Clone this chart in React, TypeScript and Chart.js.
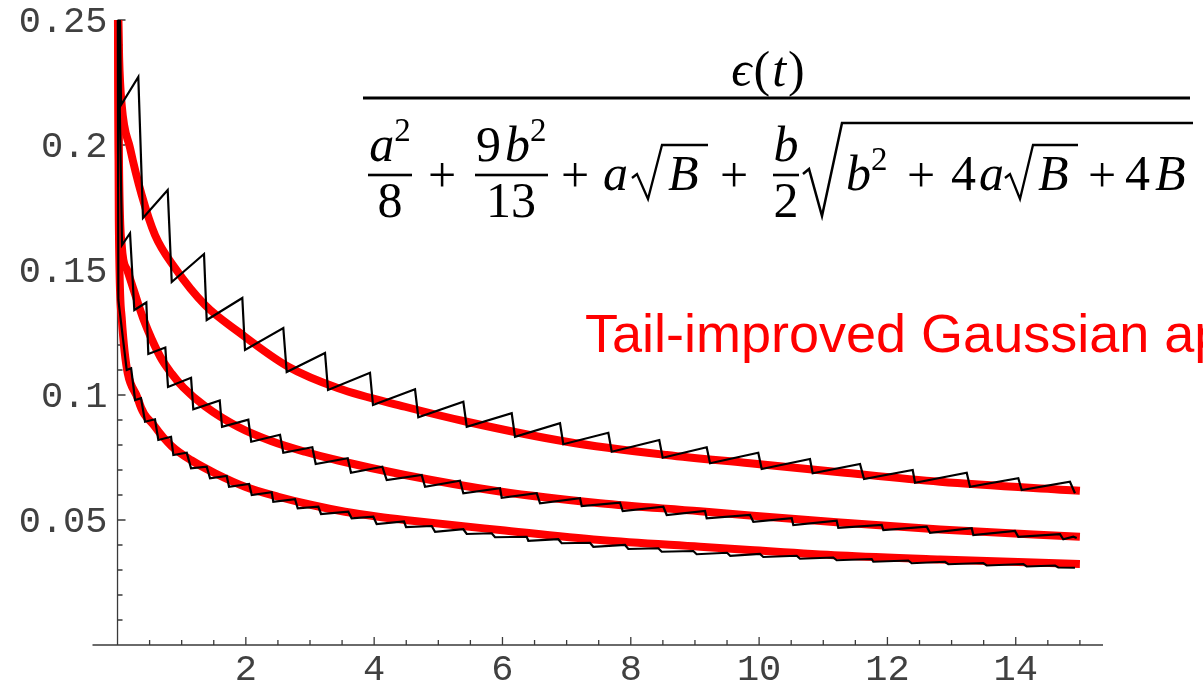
import React, { useEffect, useRef } from 'react';
import { Chart, registerables } from 'chart.js';
Chart.register(...registerables);

// ---------- data ----------
const xMajorTicks = [2, 4, 6, 8, 10, 12, 14];
const xTickLabels = ['2', '4', '6', '8', '10', '12', '14'];
const xMinorTicks = [0.5, 1, 1.5, 2.5, 3, 3.5, 4.5, 5, 5.5, 6.5, 7, 7.5, 8.5, 9, 9.5, 10.5, 11, 11.5, 12.5, 13, 13.5, 14.5, 15];
const yMajorTicks = [0.05, 0.1, 0.15, 0.2, 0.25];
const yTickLabels = ['0.05', '0.1', '0.15', '0.2', '0.25'];
const yMinorTicks = [0.01, 0.02, 0.03, 0.04, 0.06, 0.07, 0.08, 0.09, 0.11, 0.12, 0.13, 0.14, 0.16, 0.17, 0.18, 0.19, 0.21, 0.22, 0.23, 0.24];

const redTopX = [0.005, 0.025, 0.065, 0.195, 0.377, 0.584, 0.896, 1.364, 1.883, 2.662, 3.442, 4.481, 5.443, 7.0, 8.56, 9.858, 11.26, 12.82, 15.0];
const redTopY = [0.262, 0.235, 0.216, 0.1988, 0.18, 0.164, 0.1508, 0.136, 0.1253, 0.1113, 0.1027, 0.0953, 0.0893, 0.0813, 0.076, 0.0727, 0.0691, 0.0653, 0.0617];

const redMidX = [0.005, 0.02, 0.065, 0.15, 0.246, 0.402, 0.662, 0.845, 1.026, 1.364, 1.883, 2.403, 2.922, 3.44, 4.481, 5.96, 7.52, 9.08, 9.858, 11.26, 12.82, 15.0];
const redMidY = [0.27, 0.2, 0.16, 0.15, 0.1425, 0.1305, 0.1155, 0.1085, 0.103, 0.0955, 0.0872, 0.0815, 0.0773, 0.0738, 0.068, 0.0614, 0.0567, 0.0535, 0.0518, 0.049, 0.0462, 0.0433];

const redLowX = [0.005, 0.02, 0.065, 0.324, 0.584, 0.845, 1.156, 1.52, 1.987, 2.506, 3.027, 3.546, 4.065, 4.481, 5.96, 7.52, 9.08, 9.858, 11.26, 12.82, 15.0];
const redLowY = [0.26, 0.17, 0.131, 0.098, 0.0873, 0.0795, 0.0738, 0.0687, 0.0633, 0.0593, 0.056, 0.0533, 0.0513, 0.05, 0.046, 0.042, 0.0393, 0.038, 0.0358, 0.0342, 0.0324];

const sawTopX = [0.031, 0.055, 0.324, 0.397, 0.782, 0.845, 1.348, 1.39, 1.945, 1.987, 2.584, 2.637, 3.234, 3.281, 3.935, 3.982, 4.637, 4.688, 5.39, 5.443, 6.144, 6.195, 6.897, 6.948, 7.65, 7.703, 8.444, 8.497, 9.183, 9.235, 9.987, 10.04, 10.793, 10.835, 11.573, 11.635, 12.394, 12.43, 13.236, 13.287, 14.04, 14.093, 14.845, 14.923];
const sawTopY = [0.262, 0.216, 0.2272, 0.1708, 0.182, 0.1452, 0.1564, 0.13, 0.1388, 0.118, 0.1268, 0.1092, 0.1168, 0.102, 0.1089, 0.096, 0.1023, 0.0911, 0.0973, 0.0873, 0.0927, 0.0833, 0.0887, 0.0803, 0.0849, 0.0773, 0.082, 0.0749, 0.0791, 0.0727, 0.0769, 0.0704, 0.0744, 0.0687, 0.0724, 0.0664, 0.07, 0.0649, 0.0689, 0.0633, 0.0667, 0.062, 0.0653, 0.0607];

const sawMidX = [0.008, 0.07, 0.195, 0.262, 0.449, 0.48, 0.745, 0.787, 1.146, 1.181, 1.593, 1.629, 2.039, 2.084, 2.533, 2.584, 3.036, 3.089, 3.588, 3.639, 4.127, 4.196, 4.741, 4.793, 5.338, 5.39, 5.962, 5.988, 6.534, 6.585, 7.209, 7.235, 7.832, 7.874, 8.507, 8.56, 9.157, 9.183, 9.858, 9.91, 10.508, 10.533, 11.209, 11.234, 11.911, 11.936, 12.612, 12.664, 13.314, 13.339, 13.988, 14.04, 14.69, 14.741, 14.897, 14.95];
const sawMidY = [0.258, 0.16, 0.1647, 0.134, 0.137, 0.1164, 0.119, 0.1032, 0.1069, 0.0943, 0.0978, 0.0873, 0.0901, 0.0813, 0.0841, 0.0769, 0.0791, 0.0724, 0.0747, 0.0689, 0.0713, 0.066, 0.068, 0.0633, 0.0657, 0.0607, 0.0627, 0.0589, 0.0607, 0.0567, 0.0587, 0.0556, 0.0569, 0.0536, 0.0553, 0.052, 0.0536, 0.0507, 0.052, 0.0493, 0.0507, 0.048, 0.0497, 0.0469, 0.048, 0.046, 0.0473, 0.0449, 0.0467, 0.044, 0.0456, 0.0433, 0.0443, 0.0423, 0.0433, 0.0428];

const sawLowX = [0.003, 0.013, 0.143, 0.212, 0.274, 0.366, 0.429, 0.584, 0.636, 0.834, 0.87, 1.079, 1.146, 1.39, 1.442, 1.702, 1.738, 2.051, 2.092, 2.403, 2.428, 2.767, 2.809, 3.13, 3.172, 3.597, 3.649, 3.987, 4.039, 4.465, 4.497, 4.897, 4.949, 5.39, 5.443, 5.832, 5.884, 6.378, 6.403, 6.87, 6.923, 7.364, 7.416, 7.91, 7.961, 8.429, 8.482, 8.974, 9.027, 9.5, 9.55, 10.014, 10.065, 10.586, 10.637, 11.156, 11.209, 11.755, 11.78, 12.325, 12.378, 12.897, 12.949, 13.494, 13.547, 14.118, 14.171, 14.612, 14.663, 14.923];
const sawLowY = [0.27, 0.138, 0.11, 0.1107, 0.098, 0.0987, 0.0893, 0.0903, 0.082, 0.0833, 0.076, 0.0769, 0.0707, 0.0713, 0.0667, 0.0676, 0.0633, 0.0644, 0.06, 0.0611, 0.0573, 0.0583, 0.0547, 0.0553, 0.0524, 0.0533, 0.0507, 0.0513, 0.0484, 0.0494, 0.0472, 0.0476, 0.0453, 0.0463, 0.0444, 0.0447, 0.0431, 0.0433, 0.0417, 0.0423, 0.0407, 0.0409, 0.0393, 0.04, 0.0384, 0.0387, 0.0373, 0.0376, 0.0363, 0.0369, 0.0357, 0.0364, 0.0352, 0.0357, 0.0345, 0.035, 0.0339, 0.0344, 0.0333, 0.0338, 0.0327, 0.0333, 0.0323, 0.0328, 0.0318, 0.0324, 0.0314, 0.0318, 0.031, 0.0309];

const zip = (xs: number[], ys: number[]) => xs.map((x, i) => ({ x, y: ys[i] }));

// ---------- drawing helpers ----------
const SERIF = '"Liberation Serif", "DejaVu Serif", serif';
type Piece = [string, number, boolean, number?];
function runWidth(ctx: CanvasRenderingContext2D, pieces: Piece[], gap = 0) {
  let w = 0;
  for (const [t, s, it] of pieces) {
    ctx.font = `${it ? 'italic ' : ''}${s}px ${SERIF}`;
    w += ctx.measureText(t).width + gap;
  }
  return w - gap;
}
function drawRun(ctx: CanvasRenderingContext2D, pieces: Piece[], x: number, y: number, center = false, gap = 0) {
  let cx = center ? x - runWidth(ctx, pieces, gap) / 2 : x;
  for (const [t, s, it, dy] of pieces) {
    ctx.font = `${it ? 'italic ' : ''}${s}px ${SERIF}`;
    ctx.fillText(t, cx, y + (dy || 0));
    cx += ctx.measureText(t).width + gap;
  }
  return cx;
}
function hline(ctx: CanvasRenderingContext2D, x1: number, x2: number, y: number, w: number) {
  ctx.fillRect(x1, y - w / 2, x2 - x1, w);
}
function radical(ctx: CanvasRenderingContext2D, pts: number[][], barEnd: number) {
  ctx.beginPath();
  ctx.moveTo(pts[0][0], pts[0][1]);
  for (let i = 1; i < pts.length; i++) ctx.lineTo(pts[i][0], pts[i][1]);
  ctx.lineTo(barEnd, pts[pts.length - 1][1]);
  ctx.stroke();
}

const FS = 50;
const SUP = 33;

const axesPlugin = {
  id: 'mathAxes',
  beforeDatasetsDraw(chart: any) {
    const { ctx, scales } = chart;
    const xs = scales.x, ys = scales.y;
    const x0 = xs.getPixelForValue(0);
    const y0 = ys.getPixelForValue(0);
    ctx.save();
    ctx.strokeStyle = '#3a3a3a';
    ctx.lineWidth = 1.3;
    ctx.beginPath();
    ctx.moveTo(xs.left, y0); ctx.lineTo(xs.right, y0);
    ctx.moveTo(x0, ys.getPixelForValue(0.25)); ctx.lineTo(x0, y0);
    for (const v of xMajorTicks) { const p = xs.getPixelForValue(v); ctx.moveTo(p, y0); ctx.lineTo(p, y0 - 8); }
    for (const v of xMinorTicks) { const p = xs.getPixelForValue(v); ctx.moveTo(p, y0); ctx.lineTo(p, y0 - 5); }
    for (const v of yMajorTicks) { const p = ys.getPixelForValue(v); ctx.moveTo(x0, p); ctx.lineTo(x0 + 8, p); }
    for (const v of yMinorTicks) { const p = ys.getPixelForValue(v); ctx.moveTo(x0, p); ctx.lineTo(x0 + 5, p); }
    ctx.stroke();
    ctx.fillStyle = '#404040';
    ctx.font = '37px "Liberation Mono", "DejaVu Sans Mono", monospace';
    ctx.textBaseline = 'middle';
    ctx.textAlign = 'center';
    xMajorTicks.forEach((v, i) => ctx.fillText(xTickLabels[i], xs.getPixelForValue(v), y0 + 25));
    ctx.textAlign = 'right';
    yMajorTicks.forEach((v, i) => ctx.fillText(yTickLabels[i], x0 - 10, ys.getPixelForValue(v) + 2));
    ctx.restore();
  },
  afterDraw(chart: any) {
    const ctx: CanvasRenderingContext2D = chart.ctx;
    ctx.save();
    ctx.fillStyle = '#000';
    ctx.strokeStyle = '#000';
    ctx.textAlign = 'left';
    ctx.textBaseline = 'alphabetic';
    // numerator
    drawRun(ctx, [['\u03F5', 50, true], ['(', 50, false], ['t', 50, true], [')', 50, false]], 768, 86, true, 2);
    hline(ctx, 363, 1190, 98, 3);
    // a^2 / 8
    drawRun(ctx, [['a', FS, true], ['2', SUP, false, -20]], 390, 161, true);
    hline(ctx, 368, 412, 175, 2.6);
    drawRun(ctx, [['8', FS, false]], 390, 217, true);
    drawRun(ctx, [['+', FS, false]], 442, 192, true);
    // 9 b^2 / 13
    drawRun(ctx, [['9', FS, false]], 476, 161);
    drawRun(ctx, [['b', FS, true], ['2', SUP, false, -20]], 505, 161);
    hline(ctx, 475, 548, 175, 2.6);
    drawRun(ctx, [['13', FS, false]], 511, 217, true);
    drawRun(ctx, [['+', FS, false]], 575, 192, true);
    // a sqrt(B)
    drawRun(ctx, [['a', FS, true]], 603, 190);
    ctx.lineWidth = 2.3;
    radical(ctx, [[632, 178], [637, 174], [648, 199], [662, 145]], 708);
    drawRun(ctx, [['B', FS, true]], 668, 190);
    drawRun(ctx, [['+', FS, false]], 734, 192, true);
    // b / 2
    drawRun(ctx, [['b', FS, true]], 786, 161, true);
    hline(ctx, 773, 799, 175, 2.6);
    drawRun(ctx, [['2', FS, false]], 786, 217, true);
    // big root
    ctx.lineWidth = 2.5;
    radical(ctx, [[803, 174], [809, 169], [822, 216], [842, 123]], 1193);
    drawRun(ctx, [['b', FS, true], ['2', SUP, false, -20]], 846, 190);
    drawRun(ctx, [['+', FS, false]], 921, 192, true);
    drawRun(ctx, [['4', FS, false]], 951, 190);
    drawRun(ctx, [['a', FS, true]], 979, 190);
    ctx.lineWidth = 2.3;
    radical(ctx, [[1005, 178], [1010, 174], [1020, 199], [1033, 145]], 1078);
    drawRun(ctx, [['B', FS, true]], 1038, 190);
    drawRun(ctx, [['+', FS, false]], 1102, 192, true);
    drawRun(ctx, [['4', FS, false]], 1125, 190);
    drawRun(ctx, [['B', FS, true]], 1155, 190);
    // red label
    ctx.fillStyle = '#ff0000';
    ctx.font = '54px "Liberation Sans", Arial, sans-serif';
    ctx.fillText('Tail-improved Gaussian approximation', 585, 352);
    ctx.restore();
  },
};

export default function App() {
  const ref = useRef<HTMLCanvasElement>(null);
  useEffect(() => {
    if (!ref.current) return;
    const black = (data: { x: number; y: number }[]) => ({
      data, borderColor: '#000000', borderWidth: 2.2, pointRadius: 0, tension: 0, order: 1,
    });
    const red = (data: { x: number; y: number }[]) => ({
      data, borderColor: '#ff0000', borderWidth: 8, pointRadius: 0, cubicInterpolationMode: 'monotone' as const, order: 2,
    });
    const chart = new Chart(ref.current, {
      type: 'line',
      data: {
        datasets: [
          black(zip(sawTopX, sawTopY)),
          black(zip(sawMidX, sawMidY)),
          black(zip(sawLowX, sawLowY)),
          red(zip(redTopX, redTopY)),
          red(zip(redMidX, redMidY)),
          red(zip(redLowX, redLowY)),
        ] as any,
      },
      options: {
        animation: false,
        responsive: false,
        devicePixelRatio: 1,
        layout: { padding: { left: 92.5, right: 100, top: 20, bottom: 40 } },
        plugins: { legend: { display: false }, tooltip: { enabled: false } },
        events: [],
        scales: {
          x: { type: 'linear', min: -0.39, max: 15.36, display: false },
          y: { type: 'linear', min: 0, max: 0.25, display: false },
        },
      },
      plugins: [axesPlugin],
    });
    return () => chart.destroy();
  }, []);
  return (
    <div style={{ position: 'absolute', left: 0, top: 0, width: 1203, height: 685, overflow: 'hidden', background: '#fff' }}>
      <canvas ref={ref} width={1203} height={685} style={{ display: 'block' }} />
    </div>
  );
}
